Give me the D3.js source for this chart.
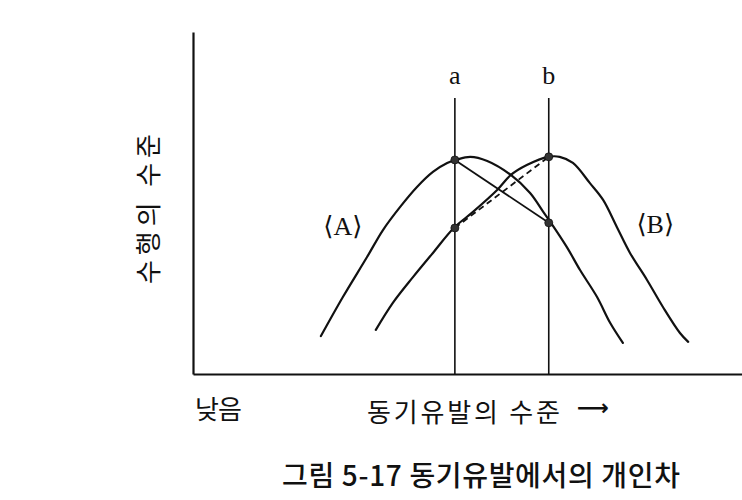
<!DOCTYPE html>
<html><head><meta charset="utf-8">
<script src="https://cdn.jsdelivr.net/npm/d3@7"></script>
<style>
html,body{margin:0;padding:0;background:#fff;}
svg{display:block;}
</style></head>
<body>
<svg id="chart" width="742" height="500"></svg>
<script>
// Curve A (performance vs motivation level, person A)
const curveA = [
  [23.3,11.1],[27.3,22.5],[31.7,34.2],[34.6,42.1],[37.7,48.8],[40.8,54.7],
  [43.7,59.1],[46.3,61.7],[47.9,62.6],[50.5,63.5],[53.6,62.3],[57.9,58.2],
  [61.4,52.9],[63.8,47.4],[65.2,44.2],[68.1,37.1],[70.5,30.4],[73.6,22.5],
  [76.0,14.9],[78.3,9.1]
];
// Curve B
const curveB = [
  [33.3,12.9],[36.4,20.8],[40.1,28.4],[43.7,35.4],[47.5,42.7],[51.0,47.4],
  [55.4,53.8],[57.9,58.2],[60.8,61.1],[64.7,63.5],[66.8,63.5],[69.2,61.7],
  [72.3,55.8],[74.7,50.9],[77.2,43.0],[79.6,35.4],[82.7,27.5],[85.6,19.6],
  [88.7,12.0],[90.2,9.4]
];
// Reference levels a and b
const levelNames = ["a","b"];
const levelX = [47.7, 64.8];
const levelTop = 80.7;
// Performance at the levels: A at a, B at b (top), B at a, A at b (low)
const dotsTop = [62.6, 63.5];
const dotsLow = [42.7, 44.2];
const curveLabels = ["⟨A⟩","⟨B⟩"];
const curveLabelPos = [[27.3,40.5],[84.2,41.2]];
const yTitle = "수행의 수준";
const xTitle = "동기유발의 수준";
const xArrow = "⟶";
const lowLabel = "낮음";
const caption = "그림 5-17 동기유발에서의 개인차";

const svg = d3.select("#chart");
const x = d3.scaleLinear().domain([0,100]).range([193,742]);
const y = d3.scaleLinear().domain([0,100]).range([374,32]);

// axes (plain lines, no ticks)
svg.append("g").attr("transform","translate(0,"+y(0)+")")
  .call(d3.axisBottom(x).ticks(0).tickSizeOuter(0))
  .call(g=>g.select(".domain").attr("stroke","#111").attr("stroke-width",2.2));
svg.append("g").attr("transform","translate("+x(0)+",0)")
  .call(d3.axisLeft(y).ticks(0).tickSizeOuter(0))
  .call(g=>g.select(".domain").attr("stroke","#111").attr("stroke-width",2.2));

// vertical level lines
svg.selectAll(".lvl").data(levelX).join("line")
  .attr("x1",d=>x(d)).attr("x2",d=>x(d))
  .attr("y1",y(levelTop)).attr("y2",y(0))
  .attr("stroke","#111").attr("stroke-width",1.6);

svg.selectAll(".lvlLabel").data(levelNames).join("text")
  .attr("x",(d,i)=>x(levelX[i])).attr("y",y(84.8))
  .attr("text-anchor","middle")
  .attr("font-family","'Liberation Serif','DejaVu Serif',serif")
  .attr("font-size",26).attr("fill","#111")
  .text(d=>d);

// curves
const line = d3.line().x(d=>x(d[0])).y(d=>y(d[1])).curve(d3.curveCatmullRom.alpha(0.5));
[curveA, curveB].forEach(c=>{
  svg.append("path").datum(c).attr("d",line)
    .attr("fill","none").attr("stroke","#111").attr("stroke-width",2.2)
    .attr("stroke-linecap","round");
});

// connecting lines: solid (A: a->b), dashed (B: a->b)
svg.append("line")
  .attr("x1",x(levelX[0])).attr("y1",y(dotsTop[0]))
  .attr("x2",x(levelX[1])).attr("y2",y(dotsLow[1]))
  .attr("stroke","#111").attr("stroke-width",1.8);
svg.append("line")
  .attr("x1",x(levelX[0])).attr("y1",y(dotsLow[0]))
  .attr("x2",x(levelX[1])).attr("y2",y(dotsTop[1]))
  .attr("stroke","#111").attr("stroke-width",1.8)
  .attr("stroke-dasharray","6,4");

// dots
const dots = levelX.flatMap((lx,i)=>[[lx,dotsTop[i]],[lx,dotsLow[i]]]);
svg.selectAll(".dot").data(dots).join("circle")
  .attr("cx",d=>x(d[0])).attr("cy",d=>y(d[1])).attr("r",4)
  .attr("fill","#333").attr("stroke","#111").attr("stroke-width",0.8);

// curve labels
svg.selectAll(".clab").data(curveLabels).join("text")
  .attr("x",(d,i)=>x(curveLabelPos[i][0])).attr("y",(d,i)=>y(curveLabelPos[i][1]))
  .attr("text-anchor","middle")
  .attr("font-family","'Liberation Serif','DejaVu Serif',serif")
  .attr("font-size",26).attr("fill","#111")
  .text(d=>d);

const kfont = "'Noto Sans CJK KR','Noto Sans',sans-serif";
// y title
svg.append("text")
  .attr("transform","translate(158,209) rotate(-90)")
  .attr("text-anchor","middle")
  .attr("font-family",kfont).attr("font-size",26)
  .attr("textLength",150).attr("lengthAdjust","spacing")
  .attr("fill","#111").text(yTitle);

// low label
svg.append("text").attr("x",195).attr("y",419)
  .attr("font-family",kfont).attr("font-size",26)
  .attr("textLength",47).attr("lengthAdjust","spacing")
  .attr("fill","#111").text(lowLabel);

// x title
svg.append("text").attr("x",367).attr("y",422)
  .attr("font-family",kfont).attr("font-size",26)
  .attr("textLength",193).attr("lengthAdjust","spacing")
  .attr("fill","#111").text(xTitle);
svg.append("text").attr("x",577).attr("y",415)
  .attr("font-family","'DejaVu Sans',sans-serif").attr("font-size",22).attr("font-weight","bold")
  .attr("textLength",32).attr("lengthAdjust","spacingAndGlyphs")
  .attr("fill","#111").text(xArrow);

// caption
svg.append("text").attr("x",282).attr("y",486)
  .attr("font-family",kfont).attr("font-size",28).attr("font-weight",500)
  .attr("textLength",398).attr("lengthAdjust","spacing")
  .attr("fill","#111").text(caption);
</script>
</body></html>
